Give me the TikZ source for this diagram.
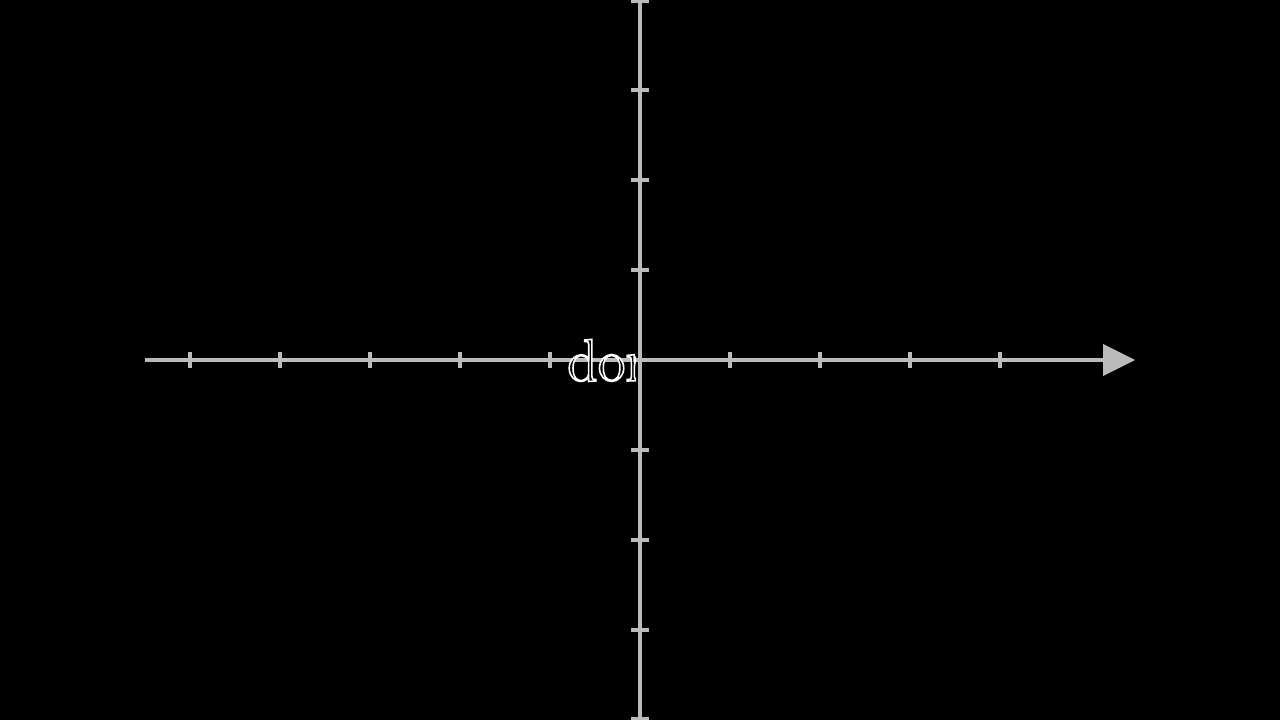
\documentclass[tikz,border=0pt]{standalone}
\tikzset{
  axisline/.style={draw=axisgray, line width=3.2pt},
  tickline/.style={draw=axisgray, line width=3.2pt},
}
\definecolor{axisgray}{HTML}{BBBBBB}
\newcommand{\outlinetext}[1]{\special{pdf:code 1 G 2 Tr 1.6 w}#1\special{pdf:code 0 Tr 0 G}}
\begin{document}
\begin{tikzpicture}[x=1pt,y=-1pt]
\fill[black] (0,0) rectangle (1280,720);
\useasboundingbox (0,0) rectangle (1280,720);
% axes
\coordinate (xl) at (145,360);
\coordinate (xr) at (1104,360);
\coordinate (yt) at (640,0);
\coordinate (yb) at (640,720);
\draw[axisline] (xl) -- (xr);
\draw[axisline] (yt) -- (yb);
\foreach \x in {190,280,370,460,550,730,820,910,1000}
  \draw[tickline] (\x,352) -- (\x,368);
\foreach \y in {1,90,180,270,450,540,630,719}
  \draw[tickline] (631,\y) -- (649,\y);
\fill[axisgray] (1103,344) -- (1135,360) -- (1103,376) -- cycle;
% partially written text
\begin{scope}
\clip (500,300) rectangle (636,420);
\node[anchor=base west, inner sep=0pt, text=black] (lbl) at (567,381)
  {\fontsize{60}{60}\selectfont\outlinetext{dor}};
\end{scope}
\end{tikzpicture}
\end{document}
